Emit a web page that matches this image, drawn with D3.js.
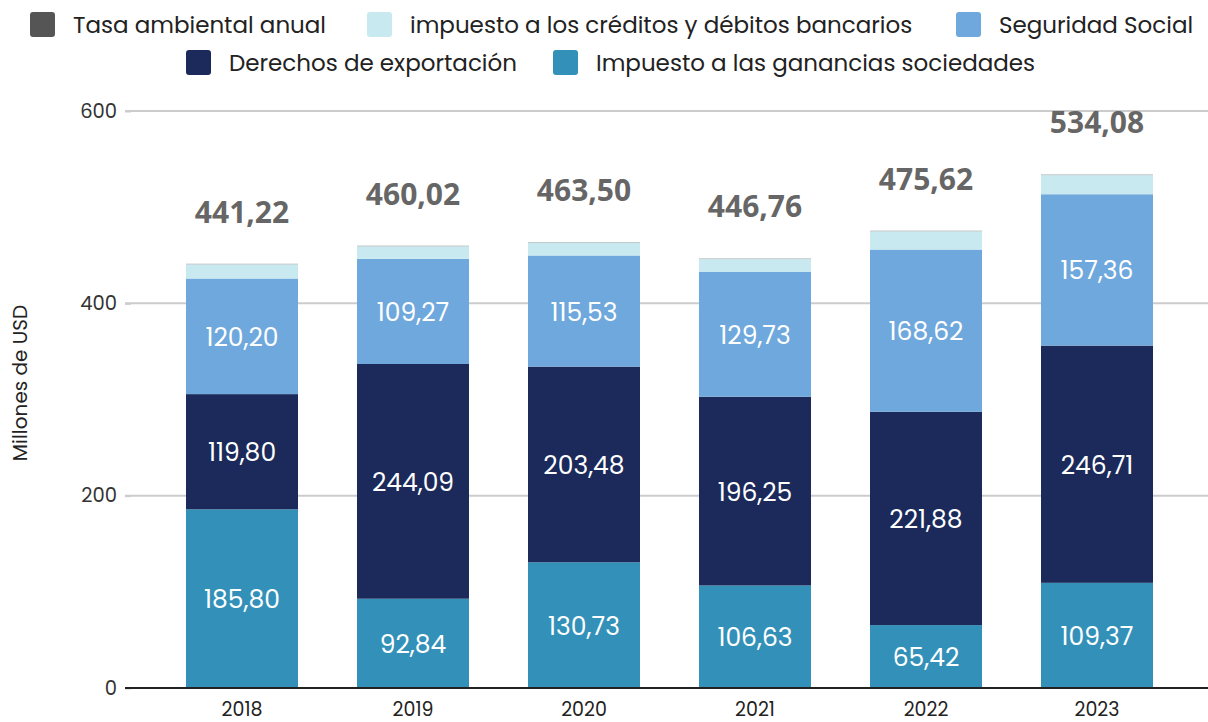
<!DOCTYPE html>
<html>
<head>
<meta charset="utf-8">
<script src="https://cdn.jsdelivr.net/npm/d3@7"></script>
<style>
  html, body { margin: 0; padding: 0; background: #fff; }
  svg { display: block; font-family: "Poppins", "Open Sans", "Noto Sans", sans-serif; }
</style>
</head>
<body>
<svg id="chart" width="1208" height="722"></svg>
<script>
// Recaudación por tributo, millones de USD
const years = ["2018", "2019", "2020", "2021", "2022", "2023"];
const ganancias = [185.80, 92.84, 130.73, 106.63, 65.42, 109.37];
const exportacion = [119.80, 244.09, 203.48, 196.25, 221.88, 246.71];
const seguridad = [120.20, 109.27, 115.53, 129.73, 168.62, 157.36];
const creditos = [14.62, 13.02, 12.96, 13.35, 18.90, 19.84];
const tasaAmbiental = [0.80, 0.80, 0.80, 0.80, 0.80, 0.80];
const totals = [441.22, 460.02, 463.50, 446.76, 475.62, 534.08];
const yTicks = [0, 200, 400, 600];

const series = [
  { key: "ganancias", name: "Impuesto a las ganancias sociedades", values: ganancias, color: "#3391b9", label: true },
  { key: "exportacion", name: "Derechos de exportación", values: exportacion, color: "#1b2a5a", label: true },
  { key: "seguridad", name: "Seguridad Social", values: seguridad, color: "#6fa8dc", label: true },
  { key: "creditos", name: "impuesto a los créditos y débitos bancarios", values: creditos, color: "#c8e9f0", label: false },
  { key: "tasa", name: "Tasa ambiental anual", values: tasaAmbiental, color: "#b0b7b9", label: false }
];

const fmt = v => v.toFixed(2).replace(".", ",");

const svg = d3.select("#chart");

const x = d3.scaleBand().domain(years).range([156.5, 1182.5])
  .paddingInner(0.345).paddingOuter(0.1725);
const y = d3.scaleLinear().domain([0, 600]).range([688, 111]);

// gridlines
svg.append("g").selectAll("line").data(yTicks.filter(t => t > 0)).join("line")
  .attr("x1", 125).attr("x2", 1208)
  .attr("y1", d => y(d)).attr("y2", d => y(d))
  .attr("stroke", "#cccccc").attr("stroke-width", 2);

// y axis
const yAxis = svg.append("g").attr("transform", "translate(131,0)")
  .call(d3.axisLeft(y).tickValues(yTicks).tickSize(6).tickPadding(8));
yAxis.select(".domain").remove();
yAxis.selectAll(".tick line").attr("stroke", "#cccccc").attr("stroke-width", 2);
yAxis.selectAll(".tick text").attr("font-size", 19.5).attr("fill", "#333")
  .attr("font-family", "Poppins, Open Sans, sans-serif");

svg.append("text")
  .attr("transform", "translate(27,383) rotate(-90)")
  .attr("text-anchor", "middle")
  .attr("font-size", 20).attr("fill", "#222")
  .text("Millones de USD");

// stacked bars
const rows = years.map((yr, i) => {
  const r = { year: yr };
  series.forEach(s => r[s.key] = s.values[i]);
  return r;
});
const stack = d3.stack().keys(series.map(s => s.key))(rows);

const layers = svg.append("g").selectAll("g").data(stack).join("g")
  .attr("fill", (d, i) => series[i].color);
layers.selectAll("rect").data(d => d).join("rect")
  .attr("x", d => x(d.data.year))
  .attr("width", x.bandwidth())
  .attr("y", d => y(d[1]))
  .attr("height", d => y(d[0]) - y(d[1]));

// segment labels
stack.forEach((layer, i) => {
  if (!series[i].label) return;
  svg.append("g").selectAll("text").data(layer).join("text")
    .attr("x", d => x(d.data.year) + x.bandwidth() / 2)
    .attr("y", d => (y(d[0]) + y(d[1])) / 2)
    .attr("dy", "0.38em")
    .attr("text-anchor", "middle")
    .attr("font-size", 25).attr("fill", "#ffffff")
    .text((d, j) => fmt(series[i].values[j]));
});

// totals
svg.append("g").selectAll("text").data(years).join("text")
  .attr("x", d => x(d) + x.bandwidth() / 2)
  .attr("y", (d, i) => y(totals[i]) - 41)
  .attr("text-anchor", "middle")
  .attr("font-family", "Open Sans, sans-serif")
  .attr("font-size", 30).attr("font-weight", 700).attr("fill", "#666666")
  .text((d, i) => fmt(totals[i]));

// baseline
svg.append("line").attr("x1", 125).attr("x2", 1208)
  .attr("y1", y(0)).attr("y2", y(0))
  .attr("stroke", "#222").attr("stroke-width", 2);

// x axis labels
svg.append("g").selectAll("text").data(years).join("text")
  .attr("x", d => x(d) + x.bandwidth() / 2)
  .attr("y", 709)
  .attr("dy", "0.36em")
  .attr("text-anchor", "middle")
  .attr("font-size", 19).attr("fill", "#222")
  .text(d => d);

// legend
const legendItems = [
  { name: "Tasa ambiental anual", color: "#555555", x: 30, y: 24.5 },
  { name: "impuesto a los créditos y débitos bancarios", color: "#c8e9f0", x: 367, y: 24.5 },
  { name: "Seguridad Social", color: "#6fa8dc", x: 956, y: 24.5 },
  { name: "Derechos de exportación", color: "#1b2a5a", x: 186, y: 62.5 },
  { name: "Impuesto a las ganancias sociedades", color: "#3391b9", x: 553, y: 62.5 }
];
const lg = svg.append("g").selectAll("g").data(legendItems).join("g")
  .attr("transform", d => `translate(${d.x},${d.y})`);
lg.append("rect").attr("x", 0).attr("y", -12.5).attr("width", 25).attr("height", 25)
  .attr("rx", 3).attr("fill", d => d.color);
lg.append("text").attr("x", 43).attr("dy", "0.36em")
  .attr("font-size", 23).attr("fill", "#222")
  .text(d => d.name);
</script>
</body>
</html>
